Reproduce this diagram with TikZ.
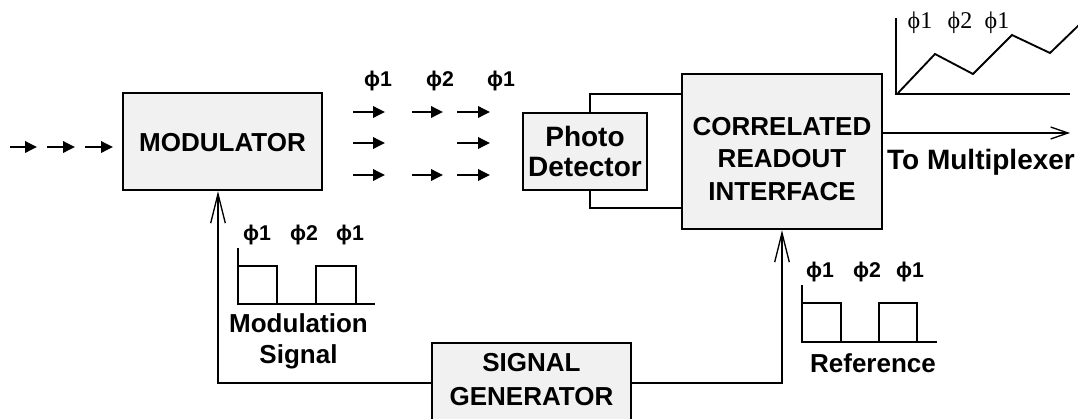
\documentclass[tikz,border=0pt]{standalone}
\usepackage{fontspec}
\setmainfont{Liberation Sans}
\newfontfamily\seriffam{Liberation Serif}
\usetikzlibrary{arrows.meta,calc}
\begin{document}
\begin{tikzpicture}[x=0.75pt,y=-0.75pt,
  box/.style={draw=black,line width=1.6pt,fill=gray!11,inner sep=0pt},
  boxtext/.style={font=\fontsize{19.5}{24.5}\selectfont\bfseries,align=center,inner sep=0pt},
  phil/.style={font=\fontsize{16}{18}\selectfont\bfseries,inner sep=0pt,anchor=base},
  phis/.style={font=\fontsize{18}{20}\selectfont\seriffam,inner sep=0pt,anchor=base},
  conn/.style={line width=1pt},
  openarrow/.style={-{Straight Barb[length=22pt,width=11pt,line width=1pt]}},
  smallarrow/.style={line width=1.8pt,-{Triangle[length=9pt,width=8.5pt]}},
  wave/.style={line width=1.5pt},
  axisline/.style={line width=0.9pt}]
\useasboundingbox (0,0) rectangle (1078,418);
\clip (0,0) rectangle (1078,418);

% boxes
\node[box,minimum width=149.25pt,minimum height=72.75pt] (mod) at (222.5,141.5) {};
\node[boxtext] (modt) at (222.5,143) {MODULATOR};
\node[box,minimum width=93pt,minimum height=57.75pt] (photo) at (585,151.5) {};
\node[boxtext,font=\fontsize{21}{23}\selectfont\bfseries] (photot) at (585,151.5) {Photo\\Detector};
\node[box,minimum width=150pt,minimum height=116.25pt] (cri) at (782,151.5) {};
\node[boxtext] (crit) at (782,159) {CORRELATED\\READOUT\\INTERFACE};
\node[box,minimum width=149.25pt,minimum height=60pt] (sig) at (531.5,383) {};
\node[boxtext,font=\fontsize{19.5}{25.5}\selectfont\bfseries] (sigt) at (531.5,380) {SIGNAL\\GENERATOR};

% input arrows
\draw[smallarrow] (10,147) -- (37,147);
\draw[smallarrow] (47,147) -- (75,147);
\draw[smallarrow] (85,147) -- (113,147);

% modulated light arrows
\node[phil] (pa1) at (378,86) {ϕ1};
\node[phil] (pa2) at (440,86) {ϕ2};
\node[phil] (pa3) at (501,86) {ϕ1};
\foreach \y in {112,175} {
  \draw[smallarrow] (353,\y) -- (385,\y);
  \draw[smallarrow] (412,\y) -- (443,\y);
  \draw[smallarrow] (457,\y) -- (490,\y);
}
\draw[smallarrow] (353,143) -- (385,143);
\draw[smallarrow] (457,143) -- (490,143);

% photo detector to CRI
\coordinate (pdT) at (590,94);
\coordinate (pdB) at (590,208);
\draw[conn] (photo.north -| pdT) -- (pdT) -- (cri.west |- pdT);
\draw[conn] (photo.south -| pdB) -- (pdB) -- (cri.west |- pdB);

% output
\coordinate (outEnd) at (1070,133);
\draw[conn,-{Straight Barb[length=13pt,width=9pt,line width=1pt]}] (cri.east |- outEnd) -- (outEnd);
\node[font=\fontsize{21}{24}\selectfont\bfseries,inner sep=0pt] (tomux) at (981,162) {To Multiplexer};

% signal generator feedback
\coordinate (modIn) at ($(mod.south)+(-4.5,0)$);
\draw[conn,openarrow] (sig.west) -| (modIn);
\draw[conn,openarrow] (sig.east) -| (cri.south);

% modulation signal waveform
\node[phil] (pm1) at (257,240) {ϕ1};
\node[phil] (pm2) at (304,240) {ϕ2};
\node[phil] (pm3) at (350,240) {ϕ1};
\draw[axisline] (238,248) -- (238,304) -- (375,304);
\draw[wave] (238,266) -- (277,266) -- (277,304);
\draw[wave] (316,304) -- (316,266) -- (356,266) -- (356,304);
\node[boxtext,font=\fontsize{19.5}{23.5}\selectfont\bfseries] (modsig) at (298.5,341) {Modulation\\Signal};

% reference waveform
\node[phil] (pr1) at (820,277) {ϕ1};
\node[phil] (pr2) at (867,277) {ϕ2};
\node[phil] (pr3) at (910,277) {ϕ1};
\draw[axisline] (802,285) -- (802,342) -- (937,342);
\draw[wave] (802,303) -- (841,303) -- (841,342);
\draw[wave] (879,342) -- (879,303) -- (917,303) -- (917,342);
\node[boxtext] (reft) at (873,363) {Reference};

% output graph
\draw[axisline] (896,18) -- (896,94) -- (1070,94);
\draw[line width=1.4pt] (898,93) -- (935,54) -- (973,74) -- (1012,35) -- (1050,53) -- (1080,24);
\node[phis] (pg1) at (920,28) {ϕ1};
\node[phis] (pg2) at (960,28) {ϕ2};
\node[phis] (pg3) at (997,28) {ϕ1};
\end{tikzpicture}
\end{document}
